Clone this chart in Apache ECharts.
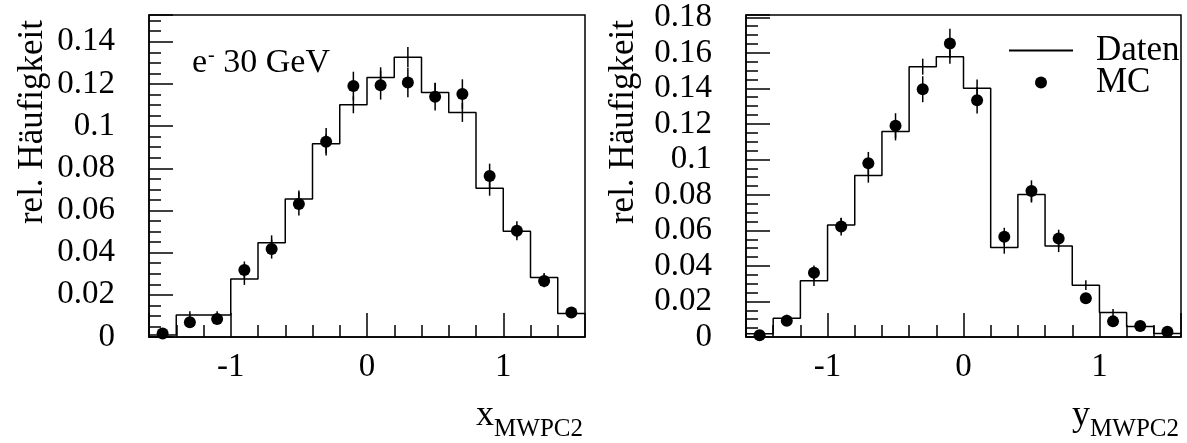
<!DOCTYPE html>
<html>
<head>
<meta charset="utf-8">
<script src="https://cdn.jsdelivr.net/npm/echarts@6/dist/echarts.min.js"></script>
<style>
  html, body { margin: 0; padding: 0; background: #fff; }
  #chart { width: 1187px; height: 443px; }
</style>
</head>
<body>
<div id="chart"></div>
<script>
// ---------- data ----------
const binCenters = [-1.5, -1.3, -1.1, -0.9, -0.7, -0.5, -0.3, -0.1, 0.1, 0.3, 0.5, 0.7, 0.9, 1.1, 1.3, 1.5];
const binWidth = 0.2;

// left panel: x_MWPC2
const xDaten    = [0.0010, 0.0104, 0.0104, 0.0275, 0.0447, 0.0655, 0.0916, 0.1101, 0.1231, 0.1327, 0.1160, 0.1065, 0.0706, 0.0502, 0.0282, 0.0111];
const xDatenErr = [0.0008, 0.0018, 0.0018, 0.0028, 0.0035, 0.0040, 0.0045, 0.0040, 0.0048, 0.0048, 0.0046, 0.0045, 0.0036, 0.0030, 0.0022, 0.0014];
const xMC       = [0.0017, 0.0070, 0.0085, 0.0318, 0.0417, 0.0631, 0.0926, 0.1190, 0.1194, 0.1207, 0.1139, 0.1152, 0.0764, 0.0504, 0.0266, 0.0116];
const xMCErr    = [0.0010, 0.0018, 0.0020, 0.0040, 0.0045, 0.0055, 0.0065, 0.0068, 0.0068, 0.0070, 0.0065, 0.0070, 0.0058, 0.0045, 0.0030, 0.0020];

// right panel: y_MWPC2
const yDaten    = [0.0018, 0.0105, 0.0317, 0.0630, 0.0909, 0.1157, 0.1522, 0.1578, 0.1400, 0.0504, 0.0802, 0.0513, 0.0292, 0.0138, 0.0059, 0.0020];
const yDatenErr = [0.0008, 0.0020, 0.0030, 0.0040, 0.0040, 0.0050, 0.0045, 0.0040, 0.0050, 0.0035, 0.0045, 0.0035, 0.0028, 0.0020, 0.0013, 0.0008];
const yMC       = [0.0010, 0.0092, 0.0362, 0.0622, 0.0978, 0.1190, 0.1395, 0.1653, 0.1333, 0.0565, 0.0822, 0.0554, 0.0218, 0.0088, 0.0062, 0.0029];
const yMCErr    = [0.0010, 0.0020, 0.0040, 0.0050, 0.0064, 0.0070, 0.0073, 0.0083, 0.0075, 0.0050, 0.0060, 0.0050, 0.0030, 0.0020, 0.0015, 0.0010];

const xRange = [-1.6, 1.6];
const yMaxLeft = 0.1527;
const yMaxRight = 0.1813;
const xTitle = ['x', 'MWPC2'];
const yTitle2 = ['y', 'MWPC2'];
const yAxisTitle = 'rel. Häufigkeit';
const beamLabel = ['e', '-', ' 30 GeV'];
const legendNames = ['Daten', 'MC'];

// ---------- helpers ----------
const FONT = "'Liberation Serif', 'Times New Roman', serif";
function stepData(vals) {
  const pts = [];
  for (let i = 0; i < vals.length; i++) {
    pts.push([binCenters[i] - binWidth / 2, vals[i]]);
    pts.push([binCenters[i] + binWidth / 2, vals[i]]);
  }
  return pts;
}
function pointData(vals) { return vals.map((v, i) => [binCenters[i], v]); }
function errData(vals, errs) { return vals.map((v, i) => [binCenters[i], v, errs[i]]); }
function renderErr(params, api) {
  const x = api.value(0), y = api.value(1), e = api.value(2);
  const p1 = api.coord([x, Math.max(0, y - e)]);
  const p2 = api.coord([x, y + e]);
  return { type: 'line', shape: { x1: p1[0], y1: p1[1], x2: p2[0], y2: p2[1] },
           style: { stroke: '#000', lineWidth: 1.5 } };
}
function intLabel(v) {
  const r = Math.round(v);
  return Math.abs(v - r) < 1e-6 ? String(r) : '';
}
function yLabel(v) {
  const k = v / 0.02;
  return Math.abs(k - Math.round(k)) < 1e-6 ? String(parseFloat(v.toFixed(2))) : '';
}

const axisLabelStyle = { fontFamily: FONT, fontSize: 33, color: '#000' };

function minorX(gridIndex) {
  return {
    type: 'value', gridIndex, min: xRange[0], max: xRange[1], interval: 0.2,
    position: 'bottom',
    axisLine: { show: true, onZero: false, lineStyle: { color: '#000', width: 1.5 } },
    axisTick: { show: true, inside: true, length: 12, lineStyle: { color: '#000', width: 1.5 } },
    axisLabel: Object.assign({ formatter: intLabel, margin: 14 }, axisLabelStyle),
    splitLine: { show: false }
  };
}
function majorX(gridIndex) {
  return {
    type: 'value', gridIndex, min: xRange[0], max: xRange[1], splitNumber: 3,
    position: 'bottom',
    axisLine: { show: false, onZero: false },
    axisTick: { show: true, inside: true, length: 24, lineStyle: { color: '#000', width: 1.5 } },
    axisLabel: { show: false },
    splitLine: { show: false }
  };
}
function minorY(gridIndex, max) {
  return {
    type: 'value', gridIndex, min: 0, max, interval: 0.005,
    position: 'left',
    axisLine: { show: true, onZero: false, lineStyle: { color: '#000', width: 1.5 } },
    axisTick: { show: true, inside: true, length: 12, lineStyle: { color: '#000', width: 1.5 } },
    axisLabel: Object.assign({ formatter: yLabel, margin: 34 }, axisLabelStyle),
    splitLine: { show: false }
  };
}
function majorY(gridIndex, max) {
  return {
    type: 'value', gridIndex, min: 0, max, interval: 0.02,
    position: 'left',
    axisLine: { show: false, onZero: false },
    axisTick: { show: true, inside: true, length: 24, lineStyle: { color: '#000', width: 1.5 } },
    axisLabel: { show: false },
    splitLine: { show: false }
  };
}

function panelSeries(xi, yi, daten, datenErr, mc, mcErr) {
  return [
    { name: 'Daten', type: 'line', xAxisIndex: xi, yAxisIndex: yi, data: stepData(daten),
      symbol: 'none', lineStyle: { color: '#000', width: 1.5 }, itemStyle: { color: '#000' },
      animation: false, z: 3 },
    { name: 'Daten-Fehler', type: 'custom', xAxisIndex: xi, yAxisIndex: yi,
      data: errData(daten, datenErr), renderItem: renderErr, animation: false, z: 3 },
    { name: 'MC-Fehler', type: 'custom', xAxisIndex: xi, yAxisIndex: yi,
      data: errData(mc, mcErr), renderItem: renderErr, animation: false, z: 4 },
    { name: 'MC', type: 'scatter', xAxisIndex: xi, yAxisIndex: yi, data: pointData(mc),
      symbol: 'circle', symbolSize: 12, itemStyle: { color: '#000', opacity: 1 }, animation: false, z: 5 }
  ];
}

const chart = echarts.init(document.getElementById('chart'), null, { renderer: 'canvas' });
const option = {
  backgroundColor: '#fff',
  animation: false,
  grid: [
    { left: 149, right: 602, top: 15, bottom: 106, show: true, borderColor: '#000', borderWidth: 1.5, backgroundColor: 'transparent', outerBoundsMode: 'none' },
    { left: 746, right: 6, top: 15, bottom: 106, show: true, borderColor: '#000', borderWidth: 1.5, backgroundColor: 'transparent', outerBoundsMode: 'none' }
  ],
  xAxis: [minorX(0), majorX(0), minorX(1), majorX(1)],
  yAxis: [minorY(0, yMaxLeft), majorY(0, yMaxLeft), minorY(1, yMaxRight), majorY(1, yMaxRight)],
  legend: {
    data: [
      { name: legendNames[0], itemStyle: { opacity: 0, color: 'rgba(0,0,0,0)', borderWidth: 0 } },
      { name: legendNames[1] }
    ],
    orient: 'vertical', left: 1008, top: 33, padding: 0,
    itemWidth: 64, itemHeight: 12, itemGap: -3,
    textStyle: { fontFamily: FONT, fontSize: 35, color: '#000', lineHeight: 30, padding: [0, 0, 0, 18] }
  },
  series: [].concat(
    panelSeries(0, 0, xDaten, xDatenErr, xMC, xMCErr),
    panelSeries(2, 2, yDaten, yDatenErr, yMC, yMCErr)
  ),
  graphic: [
    { type: 'text', x: 33, y: 122, rotation: Math.PI / 2,
      style: { text: yAxisTitle, font: '35px ' + FONT, fill: '#000', textAlign: 'center', textVerticalAlign: 'middle' } },
    { type: 'text', x: 624, y: 122, rotation: Math.PI / 2,
      style: { text: yAxisTitle, font: '35px ' + FONT, fill: '#000', textAlign: 'center', textVerticalAlign: 'middle' } },
    { type: 'text', x: 583, y: 442,
      style: { text: '{m|' + xTitle[0] + '}{s|' + xTitle[1] + '}', textAlign: 'right', textVerticalAlign: 'bottom',
        rich: { m: { fontFamily: FONT, fontSize: 36, fill: '#000', verticalAlign: 'bottom', lineHeight: 40, padding: [0, 0, 8, 0] },
                s: { fontFamily: FONT, fontSize: 25, fill: '#000', verticalAlign: 'bottom', lineHeight: 28 } } } },
    { type: 'text', x: 1179, y: 442,
      style: { text: '{m|' + yTitle2[0] + '}{s|' + yTitle2[1] + '}', textAlign: 'right', textVerticalAlign: 'bottom',
        rich: { m: { fontFamily: FONT, fontSize: 36, fill: '#000', verticalAlign: 'bottom', lineHeight: 40, padding: [0, 0, 8, 0] },
                s: { fontFamily: FONT, fontSize: 25, fill: '#000', verticalAlign: 'bottom', lineHeight: 28 } } } },
    { type: 'text', x: 192, y: 80,
      style: { text: '{e|' + beamLabel[0] + '}{s|' + beamLabel[1] + '}{t|' + beamLabel[2] + '}', textAlign: 'left', textVerticalAlign: 'bottom',
        rich: { e: { fontFamily: FONT, fontSize: 34, fill: '#000', verticalAlign: 'bottom', lineHeight: 34 },
                s: { fontFamily: FONT, fontSize: 20, fill: '#000', verticalAlign: 'bottom', lineHeight: 34, padding: [0, 0, 14, 1] },
                t: { fontFamily: FONT, fontSize: 34, fill: '#000', verticalAlign: 'bottom', lineHeight: 34 } } } }
  ]
};
chart.setOption(option);
</script>
</body>
</html>
